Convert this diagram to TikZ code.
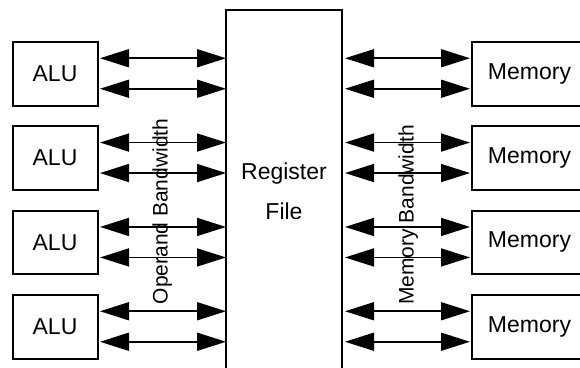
\documentclass[tikz,border=0pt]{standalone}
\usepackage{fontspec}
\setmainfont{Liberation Sans}
\usetikzlibrary{arrows.meta,calc}
\begin{document}
\begin{tikzpicture}[x=1pt,y=-1pt,
  unitbox/.style={draw,line width=2pt,outer sep=0pt,inner sep=0pt,anchor=north west,
    minimum height=63.5pt,font=\fontsize{23}{27}\selectfont},
  alubox/.style={unitbox,minimum width=85pt},
  membox/.style={unitbox,minimum width=115pt},
  dbl/.style={line width=1.6pt,{Triangle[length=29pt,width=18pt]}-{Triangle[length=29pt,width=18pt]}},
  biglbl/.style={font=\fontsize{23}{27}\selectfont,anchor=base,inner sep=0pt},
  bwlbl/.style={font=\fontsize{21}{25}\selectfont,anchor=base,rotate=90,inner sep=0pt}]
\useasboundingbox (0,0) rectangle (580,367);
\clip (0,0) rectangle (580,367);
\fill[white] (0,0) rectangle (580,367);
% register file
\node[draw,line width=2pt,outer sep=0pt,inner sep=0pt,anchor=north west,
  minimum width=116pt,minimum height=380pt] (rf) at (226,10) {};
\node[biglbl] (rflbl1) at (284,179) {Register};
\node[biglbl] (rflbl2) at (284,219) {File};
% boxes
\foreach \i/\y in {1/42,2/126.3,3/210.7,4/295}{
  \node[alubox] (alu\i) at (12.5,\y) {ALU};
  \node[membox] (mem\i) at (472,\y) {Memory};
  \draw[dbl] ($(alu\i.east)+(2.5,-15.5)$) -- ($(rf.west |- alu\i.east)+(0,-15.5)$);
  \draw[dbl] ($(alu\i.east)+(2.5,15)$) -- ($(rf.west |- alu\i.east)+(0,15)$);
  \draw[dbl] ($(rf.east |- mem\i.west)+(3,-15.5)$) -- ($(mem\i.west)+(-2,-15.5)$);
  \draw[dbl] ($(rf.east |- mem\i.west)+(3,15)$) -- ($(mem\i.west)+(-2,15)$);
}
% bandwidth labels
\node[bwlbl] (opbw) at (167.5,211.5) {Operand Bandwidth};
\node[bwlbl] (membw) at (413.5,215) {Memory Bandwidth};
\end{tikzpicture}
\end{document}
